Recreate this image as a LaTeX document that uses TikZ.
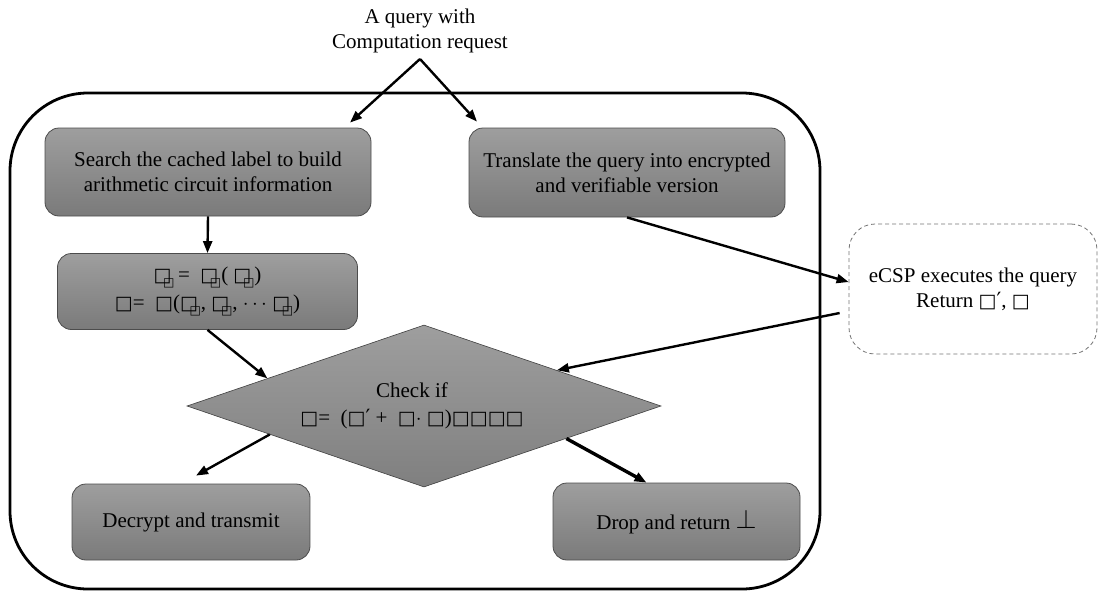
\documentclass[tikz,border=0pt]{standalone}
\usepackage{fontspec}
\setmainfont{Liberation Serif}
\newfontfamily\symf{DejaVu Sans}
\newfontfamily\symb{DejaVu Sans Bold}
\usetikzlibrary{shapes.geometric,arrows.meta,calc}
\newcommand\bx{{\fontsize{19}{19}\symb □}}
\newcommand\sbx{\kern-0.40em\raisebox{-0.28em}{\fontsize{12}{12}\symf □}}
\newcommand\prm{{\symf ′}}
\begin{document}
\begin{tikzpicture}[x=1pt,y=-1pt,
 txt/.style={font=\fontsize{21}{25}\selectfont, text=black, align=center},
 gbox/.style={txt, rectangle, rounded corners=14pt, draw=black!70, line width=0.8pt, top color=black!38, bottom color=black!52, inner sep=0pt},
 arr/.style={line width=2.4pt, -{Triangle[length=12pt,width=9pt]}},
]
\useasboundingbox (0,0) rectangle (1099,592);
% outer container
\draw[line width=2.8pt, rounded corners=78pt] (10,93) rectangle (820,589);
% nodes
\node[txt] (q) at (420,31) {A query with\\Computation request};
\coordinate (apex) at (420,59);
\node[gbox, minimum width=326pt, minimum height=88pt] (a) at (208,172) {Search the cached label to build\\arithmetic circuit information};
\node[gbox, minimum width=316pt, minimum height=89pt] (b) at (627,172.5) {Translate the query into encrypted\\and verifiable version};
\node[gbox, minimum width=300pt, minimum height=76pt] (c) at (207.5,291.5) {\bx\sbx\,= \ \bx\sbx( \bx\sbx)\\[3pt]\bx= \ \bx(\bx\sbx, \bx\sbx, $\cdots$ \bx\sbx)};
\node[diamond, draw=black!75, line width=0.6pt, top color=black!38, bottom color=black!50, minimum width=474pt, minimum height=162pt, inner sep=0pt] (d) at (424,406) {};
\node[txt] (dt) at (412,406) {Check if\\[2pt]\bx= \ (\bx\prm\ + \ \bx$\cdot$ \bx)\bx\bx\bx\bx};
\node[gbox, minimum width=238pt, minimum height=76pt] (e) at (191,522) {Decrypt and transmit};
\node[gbox, minimum width=247pt, minimum height=77pt] (f) at (676.5,521.5) {Drop and return \raisebox{1pt}{\scalebox{1.3}{$\perp$}}};
\node[txt, draw=black!55, dash pattern=on 4pt off 3pt, line width=0.8pt, rounded corners=26pt, minimum width=248pt, minimum height=130pt, inner sep=0pt] (s) at (973,289) {eCSP executes the query\\Return \bx\prm, \bx};
% connectors
\draw[arr] (apex) -- ($(a.north)+(142,-5)$);
\draw[arr] (apex) -- ($(b.north)+(-150,-6)$);
\draw[arr] (a.south) -- (c.north);
\draw[arr] (c.south) -- ($(d.west)!0.34!(d.north)$);
\draw[arr] (b.south) -- ([yshift=7pt]s.west);
\draw[arr] ($(s.west)+(-9,24)$) -- ($(d.north)!0.56!(d.east)$);
\draw[arr] ($(d.west)!0.35!(d.south)$) -- ($(e.north)+(5,-8)$);
\draw[arr, line width=3.4pt] ($(d.south)!0.6!(d.east)$) -- ($(f.north)+(-30,0)$);
\end{tikzpicture}
\end{document}
